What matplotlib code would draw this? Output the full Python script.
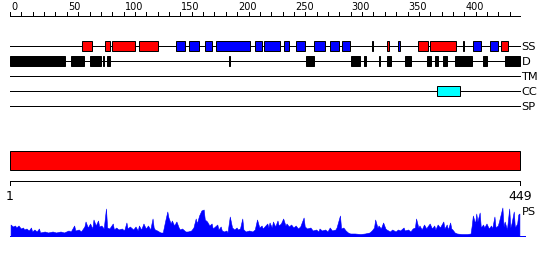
import matplotlib
matplotlib.use('Agg')
import matplotlib.pyplot as plt
from matplotlib.patches import Rectangle

# sequence length and ruler
seq_len=449
ruler_ticks=list(range(0,441,10))
ruler_labels=list(range(0,401,50))

# secondary structure (SS): helices red, strands blue, residues start-end
helix_start=[64,85,91,115,333,360,371,400,433]
helix_end=[72,88,110,130,334,368,393,400,438]
strand_start=[147,159,173,182,217,225,242,253,269,283,293,320,343,409,424]
strand_end=[154,166,178,211,222,238,246,260,277,290,299,320,343,415,430]

# disorder (D)
dis_start=[1,55,71,83,86,194,262,301,313,326,333,349,368,375,382,393,417,437]
dis_end=[48,65,80,83,88,194,268,308,313,326,335,353,371,377,385,407,420,449]

# coiled coil (CC), TM and SP empty
cc_start=[377]
cc_end=[396]
tracks=['SS','D','TM','CC','SP']

# PS profile, residue / score
ps_res=[1,3,5,6,8,10,12,13,15,17,19,20,22,24,26,27,31,34,38,41,45,48,52,54,57,58,61,63,
        66,67,69,71,73,74,76,78,79,81,83,85,86,88,91,92,94,96,99,101,103,104,106,109,111,113,
        114,116,118,120,122,124,126,127,128,130,133,135,137,139,140,142,143,145,147,149,150,152,
        155,157,160,162,164,165,167,169,171,172,174,176,178,179,183,184,186,187,189,191,192,194,
        196,198,200,201,203,205,206,208,211,214,216,218,220,222,223,227,228,229,231,232,234,236,
        237,239,241,243,244,246,248,250,252,254,256,259,260,262,265,267,270,272,273,275,278,280,
        282,284,287,288,291,292,294,296,298,300,304,309,313,317,319,321,322,324,325,327,329,331,
        332,335,337,340,342,344,347,348,351,353,355,357,358,360,361,363,365,367,368,370,372,374,
        375,377,379,380,382,383,385,386,388,389,390,392,394,398,403,406,407,408,410,411,412,414,
        415,417,418,420,422,424,425,427,428,430,431,434,435,436,438,440,441,442,444,445,447,448,449]
ps_val=[11,9,10,8,10,7,8,6,7,5,8,4,6,4,7,3,4,3,4,3,4,3,5,4,10,5,6,4,
        9,14,8,12,7,16,10,15,9,10,7,27,8,7,12,6,8,6,7,5,13,7,9,6,9,5,
        10,6,12,7,10,6,17,8,6,5,3,3,14,24,18,12,15,10,14,8,6,7,
        4,4,5,8,17,12,20,25,26,16,14,10,12,7,11,6,9,5,4,5,3,19,
        8,6,8,6,7,17,6,4,5,4,6,16,8,10,7,12,8,13,8,14,9,15,
        10,12,17,10,12,9,11,8,10,7,9,18,9,7,8,5,6,4,7,5,6,4,
        8,5,6,8,20,7,8,5,3,2,2,1.5,2,3,5,8,16,8,10,7,13,7,
        6,4,6,4,6,5,8,5,6,4,7,8,17,8,10,6,11,7,9,12,7,10,
        6,11,8,10,14,7,11,6,13,7,6,3,2,1.5,1.5,2,10,20,12,22,14,23,
        8,11,8,12,7,10,7,19,8,10,14,28,9,14,6,27,8,12,24,8,12,21,22]

sx=seq_len/510.0  # positions per pixel
fig=plt.figure(figsize=(5.5,2.6),dpi=100)
ax=fig.add_axes([0,0,1,1])
ax.set_xlim(-10*sx,540*sx)
ax.set_ylim(260,0)
ax.axis('off')
lw=0.72

# top ruler
ax.plot([0,seq_len],[15.5,15.5],color='black',lw=lw)
for t in ruler_ticks:
    ax.plot([t,t],[12,15.5],color='black',lw=lw)
for t in ruler_labels:
    ax.text(t+1*sx,10.5,str(t),ha='left',va='baseline',fontsize=7)

# tracks
track_y=[45.5,60.5,75.5,90.5,105.5]
for name,y in zip(tracks,track_y):
    ax.plot([0,seq_len],[y,y],color='black',lw=lw,zorder=1)
    ax.text(seq_len+1.5*sx,y+4.5,name,ha='left',va='baseline',fontsize=8.2)

def boxes(starts,ends,y,h,color):
    for s,e in zip(starts,ends):
        ax.add_patch(Rectangle((s-1,y-h/2),e-s+1,h,facecolor=color,edgecolor='black',lw=lw,zorder=2))

boxes(helix_start,helix_end,45.5,10,'#ff0000')
boxes(strand_start,strand_end,45.5,10,'#0000ff')
boxes(dis_start,dis_end,60.5,10,'black')
boxes(cc_start,cc_end,90.5,10,'#00ffff')

# full-length bar
ax.add_patch(Rectangle((0,150.5),seq_len,19.5,facecolor='#ff0000',edgecolor='black',lw=lw))

# bottom ruler
ax.plot([0,seq_len],[180.5,180.5],color='black',lw=lw)
ax.plot([0,0],[180.5,185],color='black',lw=lw)
ax.plot([seq_len,seq_len],[180.5,185],color='black',lw=lw)
ax.text(0,200,'1',ha='center',va='baseline',fontsize=9)
ax.text(seq_len,200,str(seq_len),ha='center',va='baseline',fontsize=9)

# PS profile
base=235.5
xs=[r-0.5 for r in ps_res]
ax.fill_between(xs,[base-v for v in ps_val],base,color='#0000ff',lw=0.4,edgecolor='#0000ff')
ax.plot([0,seq_len+5*sx],[base,base],color='#0000ff',lw=lw)
ax.text(seq_len+1.5*sx,215,'PS',ha='left',va='baseline',fontsize=8.2)

fig.savefig('out.png',dpi=100)
